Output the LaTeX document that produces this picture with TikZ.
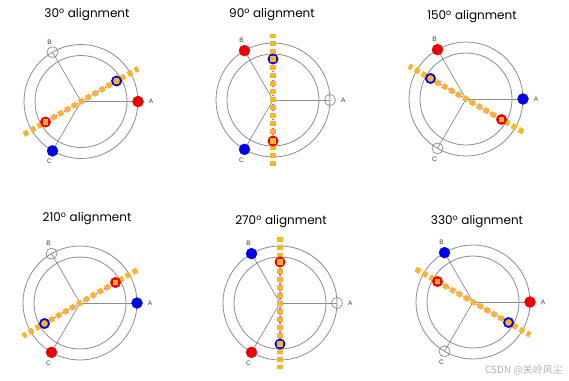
\documentclass[tikz,border=0pt]{standalone}
\usepackage{fontspec}
\newfontfamily\titlefont{Poppins}
\newfontfamily\labelfont{Liberation Sans}
\newfontfamily\cjkfont{Noto Sans CJK SC}
\usetikzlibrary{positioning}

\definecolor{ringgray}{HTML}{8C8C8C}
\definecolor{alnred}{HTML}{F20000}
\definecolor{alnblue}{HTML}{0000EE}
\definecolor{alnorange}{HTML}{F5B52C}
\definecolor{alnpink}{HTML}{FF3CF0}

\tikzset{ring/.style={draw=ringgray,line width=0.8pt}}
\tikzset{spoke/.style={draw=ringgray,line width=0.7pt}}
\tikzset{dot/.style={circle,minimum size=11pt,inner sep=0pt}}
\tikzset{reddot/.style={dot,fill=alnred,draw=alnred!80!black,line width=0.3pt}}
\tikzset{bluedot/.style={dot,fill=alnblue,draw=alnblue!80!black,line width=0.3pt}}
\tikzset{opendot/.style={dot,draw=ringgray,line width=0.7pt}}
\tikzset{redmark/.style={circle,minimum size=11pt,inner sep=0pt,fill=alnred}}
\tikzset{bluemark/.style={circle,minimum size=9pt,inner sep=0pt,draw=alnblue,line width=1.8pt,fill=alnorange}}
\tikzset{camsq/.style={rectangle,minimum size=5.5pt,inner sep=0pt,fill=alnorange}}
\tikzset{camline/.style={draw=alnorange,line width=5.5pt,dash pattern=on 5pt off 3pt}}
\tikzset{pinkline/.style={draw=alnpink,line width=1.2pt,dash pattern=on 1.5pt off 1.5pt}}
\tikzset{lbl/.style={inner sep=0pt,text=black!75,font=\labelfont\fontsize{6.5}{7}\selectfont}}
\tikzset{title/.style={inner sep=0pt,font=\titlefont\fontsize{12}{14}\selectfont}}

% one panel: centre x, centre y, alignment angle, styles of A, B, C
\newcommand{\alignpanel}[6]{%
  \begin{scope}[shift={(#1,#2)},yscale=-1]
    \coordinate (O) at (0,0);
    \draw[ring] (O) circle (57);
    \draw[ring] (O) circle (46);
    \coordinate (a) at (0:57);
    \coordinate (b) at (120:57);
    \coordinate (c) at (240:57);
    \draw[spoke] (O) -- (a);
    \draw[spoke] (O) -- (b);
    \draw[spoke] (O) -- (c);
    \node[#4] (A) at (a) {};
    \node[#5] (B) at (b) {};
    \node[#6] (C) at (c) {};
    \node[lbl, right=5pt of A] (Alab) {A};
    \node[lbl, above=2pt of B, xshift=-3pt] (Blab) {B};
    \node[lbl, below=2.5pt of C, xshift=-3pt] (Clab) {C};
    %% camshaft line
    \coordinate (l1) at (#3:66);
    \coordinate (l2) at (#3+180:66);
    \coordinate (pb) at (#3:41);
    \coordinate (pr) at (#3+180:41);
    \draw[pinkline] (pr) -- (pb);
    \draw[camline] (l2) -- (l1);
    \node[bluemark] (mb) at (pb) {};
    \node[redmark] (mr) at (pr) {};
    \node[camsq] (sb) at (pb) {};
    \node[camsq] (sr) at (pr) {};
  \end{scope}
}

\begin{document}
\begin{tikzpicture}[x=1pt,y=-1pt]
	\useasboundingbox[fill=white] (0,0) rectangle (569,380);
	%%
	\alignpanel{81}{101.5}{30}{reddot}{opendot}{bluedot}
	\alignpanel{273}{100}{90}{opendot}{reddot}{bluedot}
	\alignpanel{466}{99}{150}{bluedot}{reddot}{opendot}
	\alignpanel{80}{303}{210}{bluedot}{opendot}{reddot}
	\alignpanel{280}{303}{270}{opendot}{bluedot}{reddot}
	\alignpanel{473}{302}{330}{reddot}{bluedot}{opendot}
	%%
	\node[title] (t30) at (87,15) {30\textsuperscript{o} alignment};
	\node[title] (t90) at (272,15) {90\textsuperscript{o} alignment};
	\node[title] (t150) at (472,17) {150\textsuperscript{o} alignment};
	\node[title] (t210) at (87,219) {210\textsuperscript{o} alignment};
	\node[title] (t270) at (281,222) {270\textsuperscript{o} alignment};
	\node[title] (t330) at (477,222) {330\textsuperscript{o} alignment};

	\node[text=black!30, inner sep=0pt, font=\cjkfont\fontsize{10}{12}\selectfont] (mark) at (524,370) {CSDN @关岭风尘};

\end{tikzpicture}
\end{document}
